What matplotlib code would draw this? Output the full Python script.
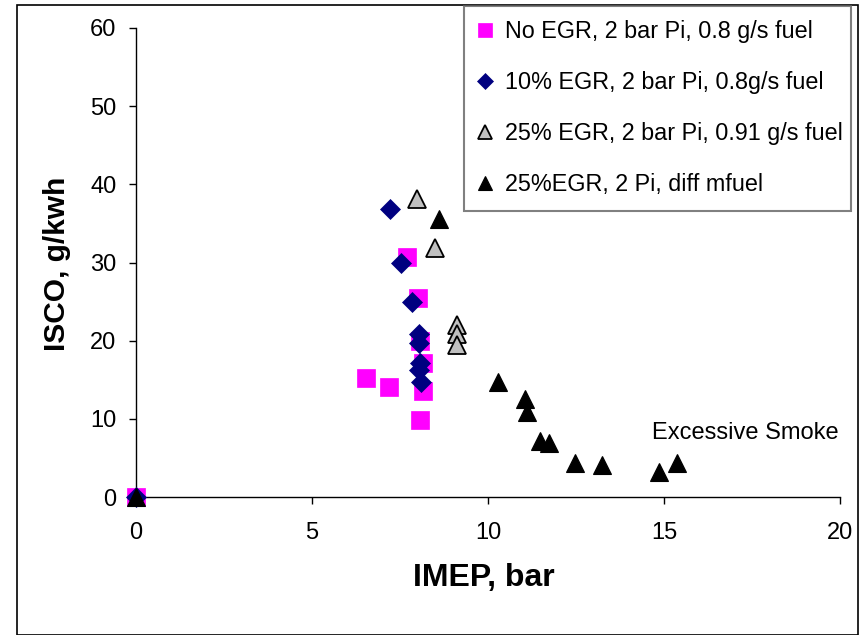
import matplotlib
matplotlib.use("Agg")
import matplotlib.pyplot as plt
from matplotlib.patches import Rectangle

plt.rcParams['font.family'] = ['Liberation Sans', 'DejaVu Sans']

# ---- data ----
x_noegr = [0, 6.53, 7.18, 7.69, 8.00, 8.07, 8.14, 8.14, 8.07]
y_noegr = [0, 15.2, 14.1, 30.7, 25.5, 19.9, 17.2, 13.5, 9.8]

x_egr10 = [0, 7.22, 7.53, 7.84, 8.04, 8.04, 8.07, 8.04, 8.10]
y_egr10 = [0, 36.9, 30.0, 24.9, 20.9, 19.7, 17.1, 16.2, 14.7]

x_egr25 = [7.97, 8.49, 9.12, 9.12, 9.12]
y_egr25 = [38.1, 31.9, 22.0, 20.9, 19.4]

x_egr25d = [0, 8.62, 10.28, 11.06, 11.10, 11.48, 11.74, 12.47, 13.23, 14.87, 15.38]
y_egr25d = [0, 35.6, 14.7, 12.5, 10.9, 7.2, 6.9, 4.3, 4.1, 3.2, 4.3]

labels = ["No EGR, 2 bar Pi, 0.8 g/s fuel",
          "10% EGR, 2 bar Pi, 0.8g/s fuel",
          "25% EGR, 2 bar Pi, 0.91 g/s fuel",
          "25%EGR, 2 Pi, diff mfuel"]

x_ticks = [0, 5, 10, 15, 20]
y_ticks = [0, 10, 20, 30, 40, 50, 60]

W, H = 864, 635
fig = plt.figure(figsize=(W / 100, H / 100), dpi=100)
fig.patch.set_facecolor('white')

# outer chart border
fig.patches.append(Rectangle((17 / W, 0), (858 - 17) / W, 1 - 5 / H,
                             transform=fig.transFigure, fill=False,
                             edgecolor='black', linewidth=1.2))

ax = fig.add_axes([136 / W, 1 - 497 / H, (840 - 136) / W, (497 - 28) / H])
ax.set_facecolor('none')

ax.plot(x_noegr, y_noegr, linestyle='none', marker='s', ms=12.5,
        mfc='#FF00FF', mec='#FF00FF', mew=0.5, clip_on=False, label=labels[0], zorder=3)
ax.plot(x_egr10, y_egr10, linestyle='none', marker='D', ms=10.0,
        mfc='#000080', mec='#000080', mew=0.5, clip_on=False, label=labels[1], zorder=4)
ax.plot(x_egr25, y_egr25, linestyle='none', marker='^', ms=13.5,
        mfc='#C0C0C0', mec='black', mew=1.3, clip_on=False, label=labels[2], zorder=5)
ax.plot(x_egr25d, y_egr25d, linestyle='none', marker='^', ms=13.5,
        mfc='black', mec='black', mew=0.8, clip_on=False, label=labels[3], zorder=6)

ax.set_xlim(0, 20)
ax.set_ylim(0, 60)
ax.set_xticks(x_ticks)
ax.set_yticks(y_ticks)
for s in ['top', 'right']:
    ax.spines[s].set_visible(False)
for s in ['left', 'bottom']:
    ax.spines[s].set_linewidth(1.0)
    ax.spines[s].set_color('black')
ax.tick_params(axis='both', direction='out', length=5, width=1.0,
               labelsize=17, colors='black')
ax.tick_params(axis='y', pad=9)
ax.tick_params(axis='x', pad=13)

ax.text(14.66, 8.2, "Excessive Smoke", fontsize=17, va='center', ha='left')

fig.text(57 / W, 1 - 264 / H, "ISCO, g/kwh", rotation=90, fontsize=21.5,
         fontweight='bold', ha='center', va='center')
fig.text(484 / W, 1 - 578 / H, "IMEP, bar", fontsize=23,
         fontweight='bold', ha='center', va='center')

leg = fig.legend(loc='upper left',
                 bbox_to_anchor=(464 / W, 1 - 214 / H, (851 - 464) / W, (214 - 6) / H),
                 mode='expand', fontsize=16.8, markerscale=0.78, handlelength=0.6,
                 handletextpad=0.55, labelspacing=1.2, borderpad=0.62,
                 fancybox=False, frameon=True, borderaxespad=0)
leg.get_frame().set_edgecolor('#606060')
leg.get_frame().set_linewidth(1.5)

fig.savefig('out.png', dpi=100)
